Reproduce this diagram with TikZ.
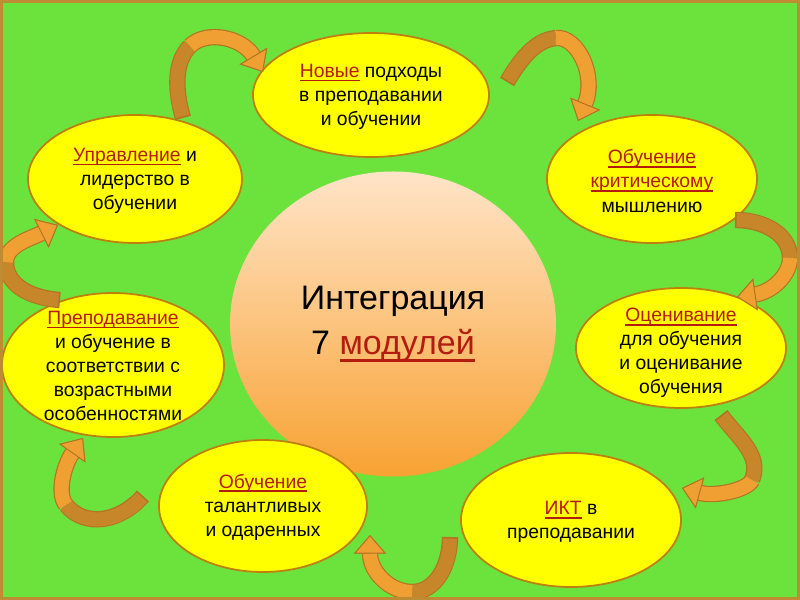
\documentclass[tikz,border=0pt]{standalone}
\usepackage{fontspec}
\setmainfont{Liberation Sans}
\usepackage{xcolor}
\usepackage{tikz}
\usetikzlibrary{shapes.geometric,arrows.meta,positioning}

\definecolor{bggreen}{RGB}{108,226,60}
\definecolor{framecol}{RGB}{190,140,50}
\definecolor{ellyellow}{RGB}{255,255,0}
\definecolor{elledge}{RGB}{190,128,10}
\definecolor{wordred}{RGB}{180,28,16}
\definecolor{arrlight}{RGB}{240,160,50}
\definecolor{arrdark}{RGB}{200,134,42}
\definecolor{arredge}{RGB}{178,116,36}
\definecolor{circtop}{RGB}{255,228,200}
\definecolor{circbot}{RGB}{248,162,50}

% underlined red word
\newcommand{\redword}[1]{{\color{wordred}\setbox0=\hbox{#1}\rlap{\rule[-0.2em]{\wd0}{0.08em}}\box0}}

\tikzstyle{module} = [ellipse, draw=elledge, line width=1.5pt, fill=ellyellow, inner sep=0pt]
\tikzstyle{moduletext} = [align=center, inner sep=0pt, font=\fontsize{16.5}{20.5}\selectfont]
\tikzstyle{hub} = [ellipse, inner sep=0pt, top color=circtop, bottom color=circbot,
    align=center, font=\fontsize{29}{38.5}\selectfont]
\tikzstyle{arrowline} = [draw=arredge, line width=0.49cm]
\tikzstyle{headtip} = [-{Triangle[length=0.56cm,width=0.96cm,line width=0.8pt,fill=arrlight,color=arredge]}]
\tikzstyle{arrowtail} = [draw=arrdark, line width=0.42cm, shorten <=0.05cm]
\tikzstyle{arrowhead} = [draw=arrlight, line width=0.42cm, headtip]

% tail, controls, middle, controls, tip
\newcommand{\bentarrow}[7]{%
    \draw[arrowline] (#1) .. controls #2 and #3 .. (#4);
    \draw[arrowline,headtip] (#4) .. controls #5 and #6 .. (#7);
    \draw[arrowtail] (#1) .. controls #2 and #3 .. (#4);
    \draw[arrowhead] (#4) .. controls #5 and #6 .. (#7);
}

\begin{document}
\begin{tikzpicture}[x=0.03cm,y=-0.03cm]
    \useasboundingbox (0,0) rectangle (800,600);
    \fill[bggreen] (0,0) rectangle (800,600);
    % Place nodes
    \node[hub, minimum width=9.78cm, minimum height=9.15cm] (hub) at (393,324)
        {Интеграция\\7 \redword{модулей}};
    \node[module, minimum width=7.08cm, minimum height=3.72cm] (novye) at (371,95) {};
    \node[module, minimum width=6.42cm, minimum height=3.84cm] (upr) at (135,179) {};
    \node[module, minimum width=6.30cm, minimum height=3.84cm] (krit) at (652,179) {};
    \node[module, minimum width=6.66cm, minimum height=4.32cm] (prep) at (113,365) {};
    \node[module, minimum width=6.30cm, minimum height=3.60cm] (ocen) at (681,348) {};
    \node[module, minimum width=6.24cm, minimum height=3.96cm] (talant) at (263,506) {};
    \node[module, minimum width=6.60cm, minimum height=4.02cm] (ikt) at (571,520) {};
    % Texts
    \node[moduletext] (novye text) at (371,97) {\redword{Новые} подходы\\в преподавании\\и обучении};
    \node[moduletext] (upr text) at (135,181) {\redword{Управление} и\\лидерство в\\обучении};
    \node[moduletext] (krit text) at (652,181) {\redword{Обучение}\\\redword{критическому}\\мышлению};
    \node[moduletext] (prep text) at (113,366) {\redword{Преподавание}\\и обучение в\\соответствии с\\возрастными\\особенностями};
    \node[moduletext] (ocen text) at (681,353) {\redword{Оценивание}\\для обучения\\и оценивание\\обучения};
    \node[moduletext] (talant text) at (263,507) {\redword{Обучение}\\талантливых\\и одаренных};
    \node[moduletext] (ikt text) at (571,522) {\redword{ИКТ} в\\преподавании};
    % Arrow ends
    \coordinate (a1t) at (183,118); \coordinate (a1m) at (190,46);  \coordinate (a1h) at (263,72);
    \coordinate (a2t) at (507,82);  \coordinate (a2m) at (556,38);  \coordinate (a2h) at (578,121);
    \coordinate (a3t) at (735,220); \coordinate (a3m) at (790,258); \coordinate (a3h) at (737,297);
    \coordinate (a4t) at (721,415); \coordinate (a4m) at (752,480); \coordinate (a4h) at (682,488);
    \coordinate (a5t) at (450,537); \coordinate (a5m) at (412,592); \coordinate (a5h) at (370,535);
    \coordinate (a6t) at (143,496); \coordinate (a6m) at (66,505);  \coordinate (a6h) at (83,438);
    \coordinate (a7t) at (60,300);  \coordinate (a7m) at (6,262);   \coordinate (a7h) at (58,225);
    % Draw arrows
    \bentarrow{a1t}{(175,90)}{(174,62)}{a1m}{(206,30)}{(242,37)}{a1h}
    \bentarrow{a2t}{(520,60)}{(535,40)}{a2m}{(577,36)}{(597,75)}{a2h}
    \bentarrow{a3t}{(765,220)}{(790,235)}{a3m}{(790,275)}{(772,292)}{a3h}
    \bentarrow{a4t}{(738,438)}{(762,455)}{a4m}{(748,490)}{(715,497)}{a4h}
    \bentarrow{a5t}{(450,565)}{(436,592)}{a5m}{(390,592)}{(370,572)}{a5h}
    \bentarrow{a6t}{(120,522)}{(85,528)}{a6m}{(56.5,493.5)}{(64,465)}{a6h}
    \bentarrow{a7t}{(30,298)}{(6,285)}{a7m}{(6,245)}{(32,238)}{a7h}
    % Frame
    \draw[framecol, line width=0.09cm] (1.5,1.5) rectangle (798.5,598.5);
\end{tikzpicture}
\end{document}
